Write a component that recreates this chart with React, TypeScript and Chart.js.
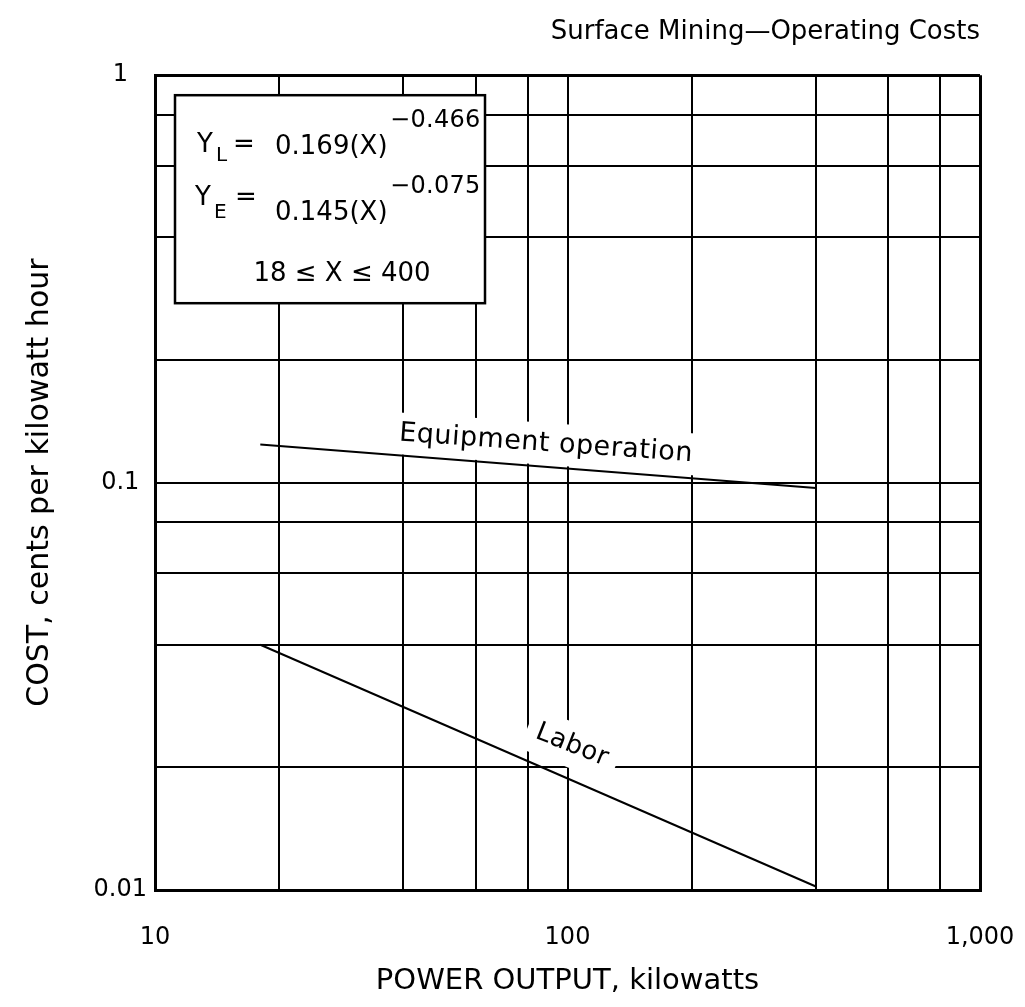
import React, { useEffect, useRef } from 'react';
import { Chart, registerables } from 'chart.js';

Chart.register(...registerables);

const FONT = '"DejaVu Sans", "Liberation Sans", sans-serif';

// ---- data ----
const titleText = 'Surface Mining\u2014Operating Costs';
const xAxisTitle = 'POWER OUTPUT, kilowatts';
const yAxisTitle = 'COST, cents per kilowatt hour';

const xTicks = [10, 20, 40, 60, 80, 100, 200, 400, 600, 800, 1000];
const xTickLabels = ['10', '', '', '', '', '100', '', '', '', '', '1,000'];
const yTicks = [0.01, 0.02, 0.04, 0.06, 0.08, 0.1, 0.2, 0.4, 0.6, 0.8, 1];
const yTickLabels = ['0.01', '', '', '', '', '0.1', '', '', '', '', '1'];

const seriesNames = ['Equipment operation', 'Labor'];
const powerKW = [18, 400];
const equipmentCost = [0.124, 0.097];
const laborCost = [0.04, 0.0102];

// where along each line (in kW) its label sits
const labelAnchorKW = [88.7, 102.6];

const formulaLines = {
  l1: { y: 'Y', sub: 'L', eq: '=', body: '0.169(X)', sup: '\u22120.466' },
  l2: { y: 'Y', sub: 'E', eq: '=', body: '0.145(X)', sup: '\u22120.075' },
  range: '18 \u2264 X \u2264 400',
};

function drawLineLabel(
  chart: any,
  dsIndex: number,
  text: string,
  anchorX: number,
  vOffset: number,
  angleAdj: number,
  fontSize: number,
  padX: number,
  halfH: number,
  spacing: string
) {
  const ctx = chart.ctx as CanvasRenderingContext2D;
  const meta = chart.getDatasetMeta(dsIndex);
  const p0 = meta.data[0];
  const p1 = meta.data[meta.data.length - 1];
  const px = chart.scales.x.getPixelForValue(anchorX);
  const t = (px - p0.x) / (p1.x - p0.x);
  const py = p0.y + t * (p1.y - p0.y);
  const ang = Math.atan2(p1.y - p0.y, p1.x - p0.x) + angleAdj;
  ctx.save();
  ctx.translate(px, py - vOffset);
  ctx.rotate(ang);
  ctx.font = `${fontSize}px ${FONT}`;
  (ctx as any).letterSpacing = spacing;
  const w = ctx.measureText(text).width;
  ctx.fillStyle = '#ffffff';
  ctx.fillRect(-w / 2 - padX, -halfH, w + 2 * padX, 2 * halfH);
  ctx.fillStyle = '#000000';
  ctx.textAlign = 'center';
  ctx.textBaseline = 'middle';
  ctx.fillText(text, 0, 0);
  ctx.restore();
}

const annotationPlugin = {
  id: 'annotations',
  beforeDatasetsDraw(chart: any) {
    const ctx = chart.ctx as CanvasRenderingContext2D;
    const { left, top } = chart.chartArea;

    // line labels with white knock-out behind them
    drawLineLabel(chart, 0, seriesNames[0], labelAnchorKW[0], 23, -0.007, 27, 8, 21, '0.5px');
    drawLineLabel(chart, 1, seriesNames[1], labelAnchorKW[1], 35, -0.03, 26, 10, 22, '0.5px');

    // formula box
    const bx = left + 20;
    const by = top + 20;
    ctx.save();
    ctx.fillStyle = '#ffffff';
    ctx.fillRect(bx, by, 310, 208);
    ctx.strokeStyle = '#000000';
    ctx.lineWidth = 2.5;
    ctx.strokeRect(bx, by, 310, 208);

    ctx.fillStyle = '#000000';
    ctx.textAlign = 'left';
    ctx.textBaseline = 'alphabetic';
    const put = (s: string, x: number, y: number, size: number, sp = '0px') => {
      ctx.font = `${size}px ${FONT}`;
      (ctx as any).letterSpacing = sp;
      ctx.fillText(s, left + x, top + y);
    };
    const f = formulaLines;
    put(f.l1.y, 42, 77, 26);
    put(f.l1.sub, 61, 86, 20);
    put(f.l1.eq, 78, 77, 26);
    put(f.l1.body, 120, 79, 26);
    put(f.l1.sup, 235, 52, 24, '0.3px');

    put(f.l2.y, 40, 130, 26);
    put(f.l2.sub, 59, 143, 20);
    put(f.l2.eq, 80, 130, 26);
    put(f.l2.body, 120, 145, 26);
    put(f.l2.sup, 235, 118, 24, '0.3px');

    ctx.textAlign = 'center';
    put(f.range, 187, 206, 26);
    ctx.restore();
  },
};

export default function App() {
  const ref = useRef<HTMLCanvasElement>(null);

  useEffect(() => {
    document.body.style.margin = '0';
    const canvas = ref.current!;
    const edgeWidth = (vals: number[]) => (c: any) => {
      const v = c.tick ? c.tick.value : 0;
      return v === vals[0] || v === vals[vals.length - 1] ? 3 : 2;
    };

    const chart = new Chart(canvas, {
      type: 'line',
      data: {
        datasets: [
          {
            label: seriesNames[0],
            data: powerKW.map((x, i) => ({ x, y: equipmentCost[i] })),
            borderColor: '#000000',
            borderWidth: 2,
            pointRadius: 0,
            fill: false,
          },
          {
            label: seriesNames[1],
            data: powerKW.map((x, i) => ({ x, y: laborCost[i] })),
            borderColor: '#000000',
            borderWidth: 2,
            pointRadius: 0,
            fill: false,
          },
        ],
      },
      options: {
        responsive: false,
        animation: false,
        events: [],
        layout: { padding: { left: 10, right: 45, top: 0, bottom: 8 } },
        plugins: {
          legend: { display: false },
          tooltip: { enabled: false },
          title: {
            display: true,
            text: titleText,
            align: 'end',
            color: '#000000',
            font: { family: FONT, size: 26, weight: 'normal' },
            padding: { top: 17, bottom: 27 },
          },
        },
        scales: {
          x: {
            type: 'logarithmic',
            min: 10,
            max: 1000,
            afterBuildTicks: (scale: any) => {
              scale.ticks = xTicks.map((v) => ({ value: v }));
            },
            afterFit: (scale: any) => {
              scale.height = 109;
              scale.paddingLeft = 0;
              scale.paddingRight = 0;
            },
            ticks: {
              autoSkip: false,
              maxRotation: 0,
              minRotation: 0,
              padding: 33,
              color: '#000000',
              font: { family: FONT, size: 24 },
              callback: (_v: any, i: number) => xTickLabels[i],
            },
            grid: {
              color: '#000000',
              lineWidth: edgeWidth(xTicks),
              drawTicks: false,
            },
            border: { display: true, color: '#000000', width: 3 },
            title: {
              display: true,
              text: xAxisTitle,
              color: '#000000',
              font: { family: FONT, size: 29 },
              padding: { top: 0, bottom: 0 },
            },
          },
          y: {
            type: 'logarithmic',
            min: 0.01,
            max: 1,
            afterBuildTicks: (scale: any) => {
              scale.ticks = yTicks.map((v) => ({ value: v }));
            },
            afterFit: (scale: any) => {
              scale.width = 145;
              scale.paddingTop = 0;
              scale.paddingBottom = 0;
            },
            ticks: {
              autoSkip: false,
              crossAlign: 'center',
              padding: 8,
              color: '#000000',
              font: { family: FONT, size: 24 },
              callback: (_v: any, i: number) => yTickLabels[i],
            },
            grid: {
              color: '#000000',
              lineWidth: edgeWidth(yTicks),
              drawTicks: false,
            },
            border: { display: true, color: '#000000', width: 3 },
            title: {
              display: true,
              text: yAxisTitle,
              color: '#000000',
              font: { family: FONT, size: 30 },
              padding: { top: 12, bottom: 0 },
            },
          },
        },
      } as any,
      plugins: [annotationPlugin],
    });

    return () => chart.destroy();
  }, []);

  return (
    <canvas
      ref={ref}
      width={1025}
      height={1007}
      style={{ display: 'block', width: '1025px', height: '1007px' }}
    />
  );
}
